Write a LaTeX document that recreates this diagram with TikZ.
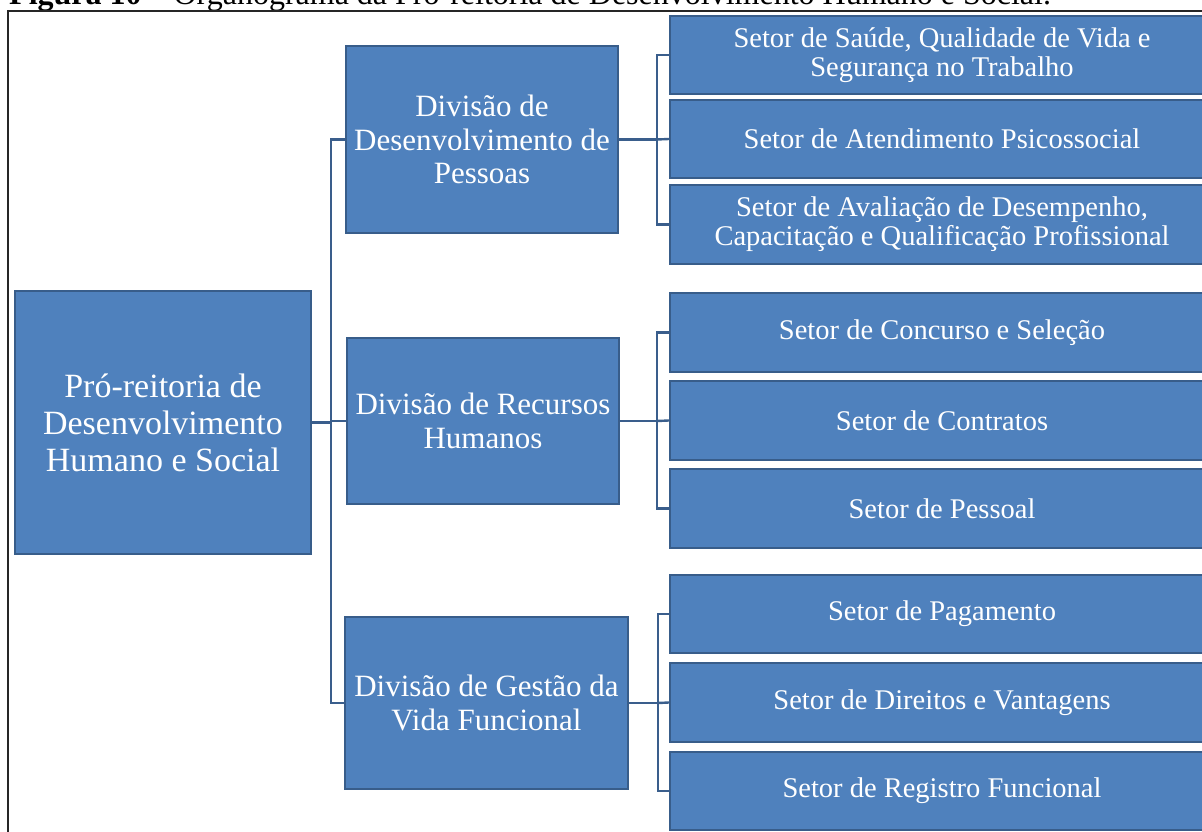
\documentclass[tikz,border=0pt]{standalone}
\usepackage{fontspec}
\setmainfont{Liberation Serif}
\definecolor{boxfill}{HTML}{4F81BD}
\definecolor{boxline}{HTML}{385D8A}
\definecolor{conn}{HTML}{3A5E8C}
\begin{document}
\begin{tikzpicture}[x=1pt,y=-1pt,
  box/.style={draw=boxline, line width=2.4pt, fill=boxfill, text=white, align=center, inner sep=0pt, anchor=center},
  rootbox/.style={box, font=\fontsize{34}{37}\selectfont},
  divbox/.style={box, font=\fontsize{31}{33.5}\selectfont},
  secbox/.style={box, font=\fontsize{28.5}{29}\selectfont, minimum width=544pt},
  link/.style={draw=conn, line width=2.4pt},
  frame/.style={draw=black!85, line width=1.5pt}]
\clip (0,0) rectangle (1202,832);
\fill[white] (0,0) rectangle (1202,832);
% caption (cut at the top, as in the reference)
\node[anchor=base west, inner sep=0pt, font=\fontsize{32}{34}\selectfont] (cap) at (9,5)
  {\textbf{Figura 10} – Organograma da Pró-reitoria de Desenvolvimento Humano e Social.};
% frame
\draw[frame] (8,860) -- (8,11) -- (1230,11);
% root
\node[rootbox, minimum width=296pt, minimum height=263pt] (root) at (163,422.5)
  {Pró-reitoria de\\Desenvolvimento\\Humano e Social};
% divisions
\node[divbox, minimum width=272pt, minimum height=187pt] (d1) at (482,139.5)
  {Divisão de\\Desenvolvimento de\\Pessoas};
\node[divbox, minimum width=272pt, minimum height=166pt] (d2) at (483,421)
  {Divisão de Recursos\\Humanos};
\node[divbox, minimum width=283pt, minimum height=172pt] (d3) at (486.5,703)
  {Divisão de Gestão da\\Vida Funcional};
% sectors
\node[secbox, minimum height=78pt] (s1) at (942,55) {Setor de Saúde, Qualidade de Vida e\\Segurança no Trabalho};
\node[secbox, minimum height=78pt] (s2) at (942,139) {Setor de Atendimento Psicossocial};
\node[secbox, minimum height=79pt] (s3) at (942,224.5) {Setor de Avaliação de Desempenho,\\Capacitação e Qualificação Profissional};
\node[secbox, minimum height=79pt] (s4) at (942,332.5) {Setor de Concurso e Seleção};
\node[secbox, minimum height=79pt] (s5) at (942,420.5) {Setor de Contratos};
\node[secbox, minimum height=79pt] (s6) at (942,508.5) {Setor de Pessoal};
\node[secbox, minimum height=78pt] (s7) at (942,614) {Setor de Pagamento};
\node[secbox, minimum height=79pt] (s8) at (942,702.5) {Setor de Direitos e Vantagens};
\node[secbox, minimum height=78pt] (s9) at (942,791) {Setor de Registro Funcional};
% connectors: root to divisions
\coordinate (trunk) at (331,422.5);
\draw[link] (root.east) -- (trunk);
\draw[link] (d1.west) -| (trunk) |- (d3.west);
\draw[link] (trunk |- d2.west) -- (d2.west);
% connectors: divisions to sectors
\coordinate (b1) at (657,139.5);
\coordinate (b2) at (657,421);
\coordinate (b3) at (658,703);
\draw[link] (d1.east) -- (b1);
\draw[link] (s1.west) -| (b1) |- (s3.west);
\draw[link] (b1) -- (s2.west);
\draw[link] (d2.east) -- (b2);
\draw[link] (s4.west) -| (b2) |- (s6.west);
\draw[link] (b2) -- (s5.west);
\draw[link] (d3.east) -- (b3);
\draw[link] (s7.west) -| (b3) |- (s9.west);
\draw[link] (b3) -- (s8.west);
\end{tikzpicture}
\end{document}
